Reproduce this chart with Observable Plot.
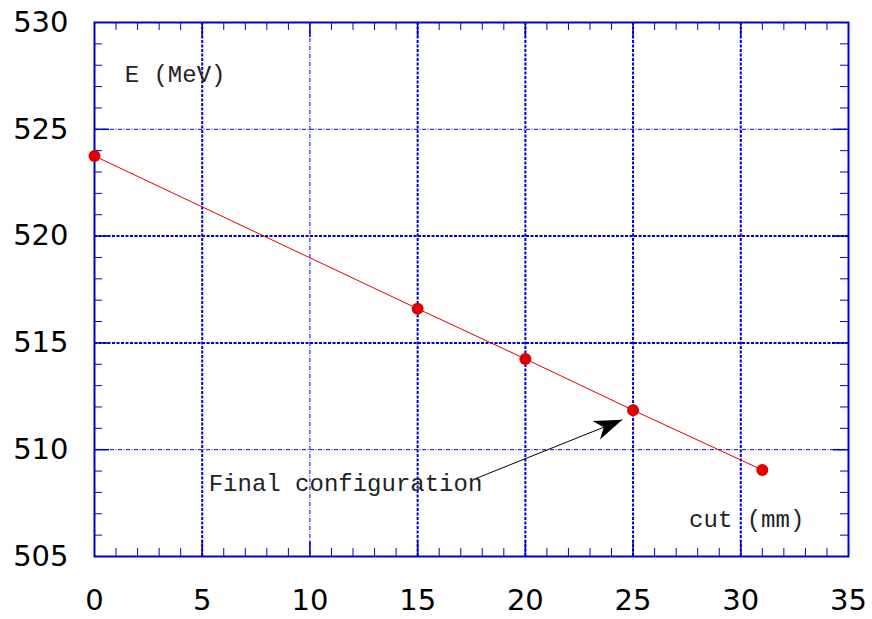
<!DOCTYPE html>
<html>
<head>
<meta charset="utf-8">
<script src="https://cdn.jsdelivr.net/npm/d3@7"></script>
<script src="https://cdn.jsdelivr.net/npm/@observablehq/plot@0.6"></script>
<style>
  html, body { margin: 0; padding: 0; background: #fff; }
</style>
</head>
<body>
<div id="chart"></div>
<script>
// Beam energy versus collimator cut
const cut = [0, 15, 20, 25, 31];
const energy = [523.75, 516.6, 514.25, 511.85, 509.05];

// Axis extents and tick labels
const xDomain = [0, 35];
const yDomain = [505, 530];
const xTicks = [0, 5, 10, 15, 20, 25, 30, 35];
const yTicks = [505, 510, 515, 520, 525, 530];

// Grid lines (heavy and light dotted)
const xGridHeavy = [5, 15, 20, 25, 30];
const xGridLight = [10];
const yGridHeavy = [515, 520];
const yGridLight = [510, 525];

// In-plot labels
const labelText = ["E (MeV)", "Final configuration", "cut (mm)"];
const labelX = [1.4, 5.3, 27.6];
const labelY = [527.2, 508.05, 506.4];

// Annotation arrow: tail and tip
const arrowFrom = [17.7, 508.65];
const arrowTo = [24.5, 511.4];

const width = 872, height = 619;
const margin = {top: 22, right: 24, bottom: 63, left: 94};
const innerW = width - margin.left - margin.right;
const innerH = height - margin.top - margin.bottom;

const blue = "#0000cc";
const red = "#e00000";

const minorX = d3.range(xDomain[0], xDomain[1] + 1).filter(v => v % 5 !== 0);
const minorY = d3.range(yDomain[0], yDomain[1] + 1).filter(v => v % 5 !== 0);
const majorX = xTicks.filter(v => v > xDomain[0] && v < xDomain[1]);
const majorY = yTicks.filter(v => v > yDomain[0] && v < yDomain[1]);

const pts = cut.map((c, i) => ({cut: c, energy: energy[i]}));
const labels = labelText.map((t, i) => ({text: t, x: labelX[i], y: labelY[i]}));

// Screen direction of the annotation arrow, for orienting its head
const dxPx = (arrowTo[0] - arrowFrom[0]) * innerW / (xDomain[1] - xDomain[0]);
const dyPx = -(arrowTo[1] - arrowFrom[1]) * innerH / (yDomain[1] - yDomain[0]);
const theta = Math.atan2(dyPx, dxPx);
const arrowHead = {
  draw(ctx, size) {
    const s = Math.sqrt(size / Math.PI) / 10;
    const ux = Math.cos(theta), uy = Math.sin(theta);
    const nx = -uy, ny = ux;
    const L = 28 * s, W = 10 * s, N = 20 * s;
    ctx.moveTo(0, 0);
    ctx.lineTo(-L * ux + W * nx, -L * uy + W * ny);
    ctx.lineTo(-N * ux, -N * uy);
    ctx.lineTo(-L * ux - W * nx, -L * uy - W * ny);
    ctx.closePath();
  }
};

const tick = 8, majorTick = 15;

const chart = Plot.plot({
  width, height,
  marginTop: margin.top, marginRight: margin.right,
  marginBottom: margin.bottom, marginLeft: margin.left,
  style: {fontFamily: "'DejaVu Sans', 'Liberation Sans', Arial, sans-serif", fontSize: "29px", color: "#000", background: "#fff"},
  x: {domain: xDomain, ticks: xTicks, tickSize: 0, tickPadding: 33, label: null},
  y: {domain: yDomain, ticks: yTicks, tickSize: 0, tickPadding: 26, label: null},
  marks: [
    // grid
    Plot.ruleX(xGridHeavy, {stroke: blue, strokeWidth: 2, strokeDasharray: "3,1.5"}),
    Plot.ruleX(xGridLight, {stroke: blue, strokeWidth: 1, strokeDasharray: "4,1.5,1,1.5"}),
    Plot.ruleY(yGridHeavy, {stroke: blue, strokeWidth: 2, strokeDasharray: "3,1.5"}),
    Plot.ruleY(yGridLight, {stroke: blue, strokeWidth: 1, strokeDasharray: "4,1.5,1,1.5"}),
    // minor ticks, pointing inward on all four sides
    Plot.ruleX(minorX, {stroke: blue, strokeWidth: 1, insetTop: innerH - tick}),
    Plot.ruleX(minorX, {stroke: blue, strokeWidth: 1, insetBottom: innerH - tick}),
    Plot.ruleY(minorY, {stroke: blue, strokeWidth: 1, insetRight: innerW - tick}),
    Plot.ruleY(minorY, {stroke: blue, strokeWidth: 1, insetLeft: innerW - tick}),
    // major ticks
    Plot.ruleX(majorX, {stroke: blue, strokeWidth: 1.5, insetTop: innerH - majorTick}),
    Plot.ruleX(majorX, {stroke: blue, strokeWidth: 1.5, insetBottom: innerH - majorTick}),
    Plot.ruleY(majorY, {stroke: blue, strokeWidth: 1.5, insetRight: innerW - majorTick}),
    Plot.ruleY(majorY, {stroke: blue, strokeWidth: 1.5, insetLeft: innerW - majorTick}),
    Plot.frame({stroke: blue, strokeWidth: 2}),
    // data
    Plot.line(pts, {x: "cut", y: "energy", stroke: red, strokeWidth: 1}),
    Plot.dot(pts, {x: "cut", y: "energy", r: 6, fill: red, stroke: "none"}),
    // annotation
    Plot.link([0], {x1: () => arrowFrom[0], y1: () => arrowFrom[1], x2: () => arrowTo[0], y2: () => arrowTo[1], stroke: "#000", strokeWidth: 1}),
    Plot.dot([0], {x: () => arrowTo[0], y: () => arrowTo[1], symbol: arrowHead, r: 10, fill: "#000", stroke: "none"}),
    Plot.text(labels, {x: "x", y: "y", text: "text", textAnchor: "start", lineAnchor: "bottom",
      fontFamily: "'Liberation Mono', 'Courier New', monospace", fontSize: 24, fill: "#222"})
  ]
});

document.getElementById("chart").appendChild(chart);
</script>
</body>
</html>
